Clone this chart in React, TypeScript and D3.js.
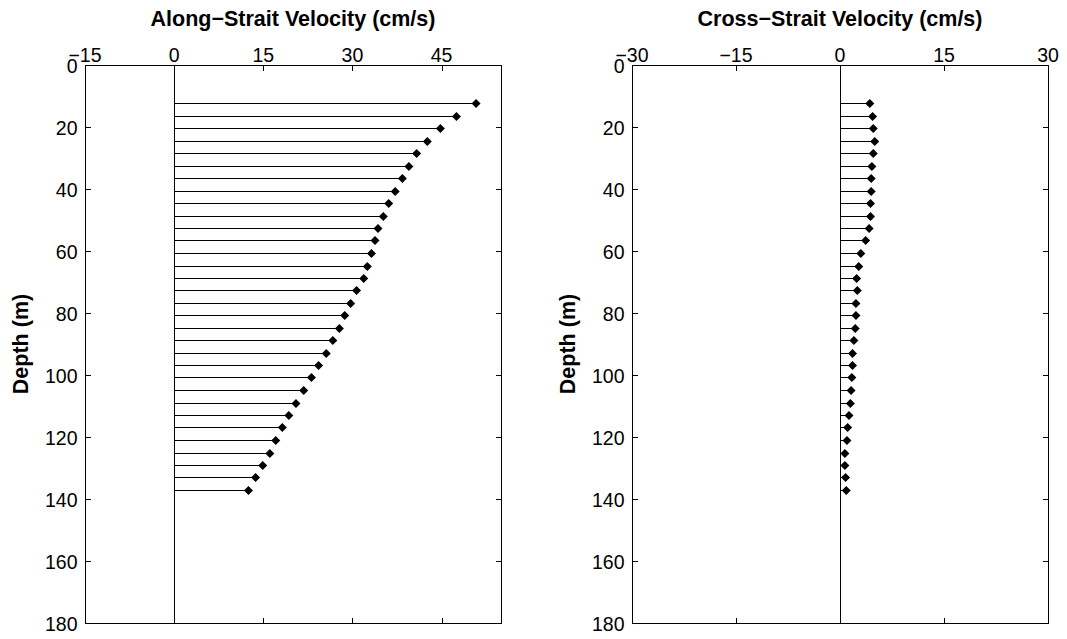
import React from "react";
import * as d3 from "d3";

// Depth bins (m)
const depths = [12.4, 16.4, 20.4, 24.5, 28.5, 32.5, 36.5, 40.5, 44.6, 48.6, 52.6, 56.6, 60.6, 64.7, 68.7, 72.7,
  76.7, 80.7, 84.8, 88.8, 92.8, 96.8, 100.8, 104.9, 108.9, 112.9, 116.9, 120.9, 125.0, 129.0, 133.0, 137.0];

// Along-strait velocity (cm/s)
const alongVel = [50.8, 47.5, 44.8, 42.6, 40.8, 39.5, 38.4, 37.2, 36.1, 35.2, 34.3, 33.8, 33.2, 32.5, 31.9, 30.7,
  29.7, 28.7, 27.8, 26.7, 25.6, 24.3, 23.1, 21.8, 20.5, 19.3, 18.2, 17.1, 16.1, 14.9, 13.7, 12.5];

// Cross-strait velocity (cm/s)
const crossVel = [4.3, 4.7, 4.8, 5.0, 4.8, 4.6, 4.5, 4.5, 4.4, 4.4, 4.2, 3.7, 3.0, 2.7, 2.4, 2.5,
  2.3, 2.3, 2.2, 2.0, 1.8, 1.8, 1.7, 1.6, 1.5, 1.3, 1.1, 1.0, 0.7, 0.7, 0.8, 0.9];

const depthTicks = [0, 20, 40, 60, 80, 100, 120, 140, 160, 180];
const alongTicks = [-15, 0, 15, 30, 45];
const crossTicks = [-30, -15, 0, 15, 30];

const FONT = "'Liberation Sans', Arial, Helvetica, sans-serif";
const TICK_FS = 19.5;
const LABEL_FS = 21.5;
const TOP = 65;
const BOTTOM = 623;
const TL = 5.5;

const fmt = (v: number) => (v < 0 ? "\u2212" + Math.abs(v) : String(v));
const px = (v: number) => Math.round(v) + 0.5;

type PanelProps = {
  x0: number;
  x1: number;
  domain: [number, number];
  ticks: number[];
  values: number[];
  title: string;
};

function Panel({ x0, x1, domain, ticks, values, title }: PanelProps) {
  const x = d3.scaleLinear().domain(domain).range([x0, x1]);
  const y = d3.scaleLinear().domain([0, 180]).range([TOP, BOTTOM]);
  const L = px(x0), R = px(x1), T = px(TOP), B = px(BOTTOM);
  const zx = px(x(0));
  const diamond = (cx: number, cy: number) => {
    const h = 4.5;
    return `M${cx},${cy - h}L${cx + h},${cy}L${cx},${cy + h}L${cx - h},${cy}Z`;
  };
  return (
    <g>
      {/* stems */}
      {values.map((v, i) => (
        <line key={"s" + i} x1={zx} x2={x(v)} y1={px(y(depths[i]))} y2={px(y(depths[i]))} stroke="#000" strokeWidth={1} />
      ))}
      {/* zero line */}
      <line x1={zx} x2={zx} y1={T} y2={B} stroke="#000" strokeWidth={1} />
      {/* markers */}
      {values.map((v, i) => (
        <path key={"m" + i} d={diamond(x(v), px(y(depths[i])))} fill="#000" />
      ))}
      {/* box */}
      <rect x={L} y={T} width={R - L} height={B - T} fill="none" stroke="#000" strokeWidth={1} />
      {/* y ticks */}
      {depthTicks.map((d) => (
        <g key={"yt" + d}>
          <line x1={L} x2={L + TL} y1={px(y(d))} y2={px(y(d))} stroke="#000" />
          <line x1={R} x2={R - TL} y1={px(y(d))} y2={px(y(d))} stroke="#000" />
          <text x={x0 - 7.5} y={y(d)} dy="0.43em" textAnchor="end" fontFamily={FONT} fontSize={TICK_FS} fill="#000">
            {d}
          </text>
        </g>
      ))}
      {/* x ticks */}
      {ticks.map((t) => (
        <g key={"xt" + t}>
          <line x1={px(x(t))} x2={px(x(t))} y1={T} y2={T + TL} stroke="#000" />
          <line x1={px(x(t))} x2={px(x(t))} y1={B} y2={B - TL} stroke="#000" />
          <text x={x(t)} y={61.7} textAnchor="middle" fontFamily={FONT} fontSize={TICK_FS} fill="#000">
            {fmt(t)}
          </text>
        </g>
      ))}
      {/* title */}
      <text x={(x0 + x1) / 2} y={26} textAnchor="middle" fontFamily={FONT} fontSize={LABEL_FS} fontWeight="bold" fill="#000">
        {title}
      </text>
      {/* y label */}
      <text
        transform={`translate(${x0 - 57.5},${(TOP + BOTTOM) / 2}) rotate(-90)`}
        textAnchor="middle"
        fontFamily={FONT}
        fontSize={LABEL_FS}
        fontWeight="bold"
        fill="#000"
      >
        Depth (m)
      </text>
    </g>
  );
}

export default function App() {
  return (
    <svg
      width={1067}
      height={639}
      style={{ position: "absolute", left: 0, top: 0, background: "#fff" }}
    >
      <rect width={1067} height={639} fill="#fff" />
      <Panel x0={85} x1={501} domain={[-15, 55]} ticks={alongTicks} values={alongVel} title={"Along\u2212Strait Velocity (cm/s)"} />
      <Panel x0={632} x1={1048} domain={[-30, 30]} ticks={crossTicks} values={crossVel} title={"Cross\u2212Strait Velocity (cm/s)"} />
    </svg>
  );
}
